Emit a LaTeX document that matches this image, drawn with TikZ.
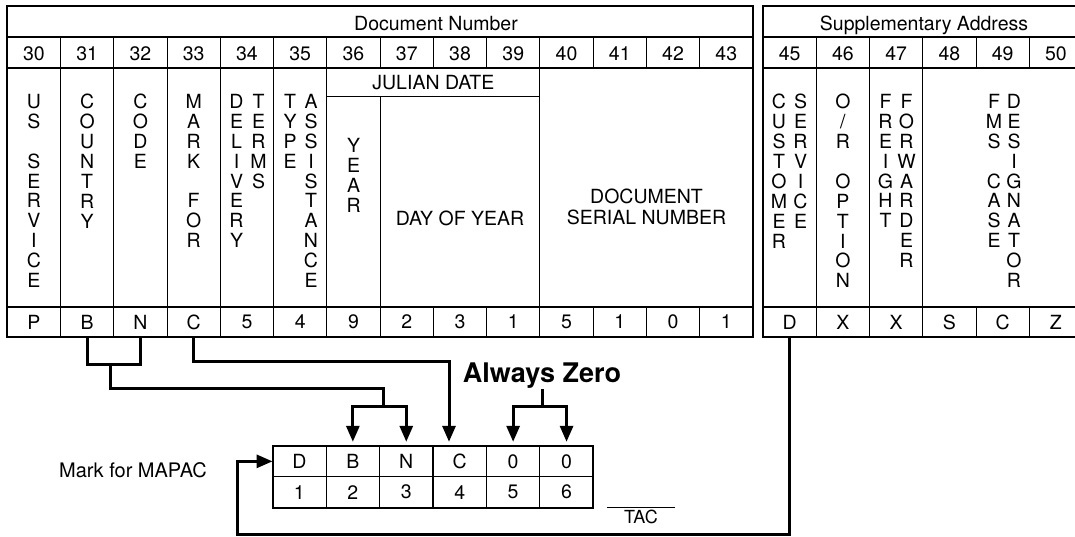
\documentclass[tikz,border=0pt]{standalone}
\usepackage{fontspec}
\setmainfont{TeX Gyre Heros}
\usetikzlibrary{arrows.meta}
\begin{document}
\begin{tikzpicture}[x=1pt,y=-1pt,
  boxline/.style={line width=2pt},
  cellrule/.style={line width=1.1pt},
  conn/.style={line width=3pt,line cap=rect},
  arr/.style={conn,-{Triangle[length=16pt,width=13pt]}},
  downarr/.style={arr,shorten >=4pt},
  numcell/.style={minimum width=53.26pt,minimum height=30pt,inner sep=0pt,font=\fontsize{19.5}{20}\selectfont},
  mapcell/.style={minimum width=53.43pt,minimum height=30.7pt,inner sep=0pt,font=\fontsize{19.5}{20}\selectfont},
  letters/.style={anchor=north,align=center,inner sep=0pt,font=\fontsize{19.5}{19.9}\selectfont},
  plain/.style={inner sep=0pt,align=center,font=\fontsize{19.5}{21}\selectfont}]
\useasboundingbox (0,0) rectangle (1075,537);
\fill[white] (0,0) rectangle (1075,537);
\draw[boxline] (7.3,5.7) rectangle (753,337);
\draw[boxline] (763,5.7) rectangle (1082,337);
\foreach \yy in {37,68,307} {
  \draw[cellrule] (7.3,\yy) -- (753,\yy);
  \draw[cellrule] (763,\yy) -- (1082,\yy);
}
\foreach \k in {1,...,13} {
  \draw[cellrule] ({7.3+53.26*\k},37) -- ++(0,31);
  \draw[cellrule] ({7.3+53.26*\k},307) -- ++(0,30);
}
\foreach \k in {1,...,6,10}
  \draw[cellrule] ({7.3+53.26*\k},68) -- ++(0,239);
\draw[cellrule] (380.1,96.7) -- (380.1,307);
\draw[cellrule] (326.9,96.7) -- (539.9,96.7);
\foreach \k in {1,...,5} {
  \draw[cellrule] ({763+53.26*\k},37) -- ++(0,31);
  \draw[cellrule] ({763+53.26*\k},307) -- ++(0,30);
}
\foreach \k in {1,2,3}
  \draw[cellrule] ({763+53.26*\k},68) -- ++(0,239);
\node[plain,anchor=base] (docnum) at (436,31) {Document Number};
\node[plain,anchor=base] (suppaddr) at (924,31) {Supplementary Address};
\foreach \n in {30,...,43}
  \node[numcell] (h\n) at ({7.3+53.26*(\n-29.5)},54) {\n};
\foreach \n in {45,...,50}
  \node[numcell] (h\n) at ({763+53.26*(\n-44.5)},54) {\n};
\foreach \v [count=\i from 30] in {P,B,N,C,5,4,9,2,3,1,5,1,0,1}
  \node[numcell] (v\i) at ({7.3+53.26*(\i-29.5)},322) {\v};
\foreach \v [count=\i from 45] in {D,X,X,S,C,Z}
  \node[numcell] (v\i) at ({763+53.26*(\i-44.5)},322) {\v};
\node[letters] (l30) at (33.9,94) {U\\S\\[19.9pt]S\\E\\R\\V\\I\\C\\E};
\node[letters] (l31) at (87.2,94) {C\\O\\U\\N\\T\\R\\Y};
\node[letters] (l32) at (140.5,94) {C\\O\\D\\E};
\node[letters] (l33) at (193.7,94) {M\\A\\R\\K\\[19.9pt]F\\O\\R};
\node[letters] (l34a) at (236.5,94) {D\\E\\L\\I\\V\\E\\R\\Y};
\node[letters] (l34b) at (258.5,94) {T\\E\\R\\M\\S};
\node[letters] (l35a) at (290,94) {T\\Y\\P\\E};
\node[letters] (l35b) at (311,94) {A\\S\\S\\I\\S\\T\\A\\N\\C\\E};
\node[plain] (julian) at (433.4,82.5) {JULIAN DATE};
\node[letters] (l36) at (353.6,138) {Y\\E\\A\\R};
\node[plain] (dayofyear) at (460,218) {DAY OF YEAR};
\node[plain] (serial) at (646.5,207) {DOCUMENT\\SERIAL NUMBER};
\node[letters] (l45a) at (779,94) {C\\U\\S\\T\\O\\M\\E\\R};
\node[letters] (l45b) at (800.5,94) {S\\E\\R\\V\\I\\C\\E};
\node[letters] (l46) at (842.9,94) {O\\/\\R\\[19.9pt]O\\P\\T\\I\\O\\N};
\node[letters] (l47a) at (885.5,94) {F\\R\\E\\I\\G\\H\\T};
\node[letters] (l47b) at (906.5,94) {F\\O\\R\\W\\A\\R\\D\\E\\R};
\node[letters] (l48a) at (994,94) {F\\M\\S\\[19.9pt]C\\A\\S\\E};
\node[letters] (l48b) at (1014,94) {D\\E\\S\\I\\G\\N\\A\\T\\O\\R};
\draw[boxline] (272.7,446) rectangle (593.3,507.7);
\draw[cellrule] (272.7,476.7) -- (593.3,476.7);
\foreach \k in {1,...,5}
  \draw[cellrule] ({272.7+53.43*\k},446) -- ++(0,61.7);
\foreach \v [count=\i] in {D,B,N,C,0,0}
  \node[mapcell] (mt\i) at ({272.7+53.43*(\i-0.5)},461.35) {\v};
\foreach \i in {1,...,6}
  \node[mapcell] (mb\i) at ({272.7+53.43*(\i-0.5)},492.2) {\i};
\node[plain,font=\fontsize{20}{24}\selectfont] (mapac) at (133,470) {Mark for MAPAC};
\node[plain,anchor=base,inner sep=2pt,font=\fontsize{27}{30}\selectfont\bfseries] (zero) at (542,382.7) {Always Zero};
\node[plain,anchor=north,minimum width=68pt,inner ysep=2.5pt,font=\fontsize{18}{20}\selectfont] (tac) at (641,507.7) {TAC};
\draw[line width=1.5pt] (tac.north west) -- (tac.north east);
\coordinate (bnjoin) at (110,364);
\coordinate (bnfork) at (383,406);
\coordinate (cturn) at (449,361);
\coordinate (zfork) at (542,406);
\coordinate (dcorner) at (237,534);
\draw[conn] (v31.south) |- (bnjoin) -| (v32.south);
\draw[conn] (bnjoin) |- (383,388) -- (bnfork);
\draw[downarr] (bnfork) -| (mt2.north);
\draw[downarr] (bnfork) -| (mt3.north);
\draw[downarr] (v33.south) |- (cturn) -- (cturn |- mt4.north);
\draw[conn] (zero.south) -- (zfork);
\draw[downarr] (zfork) -| (mt5.north);
\draw[downarr] (zfork) -| (mt6.north);
\draw[arr] (v45.south) |- (dcorner) |- (mt1.west);
\end{tikzpicture}
\end{document}
